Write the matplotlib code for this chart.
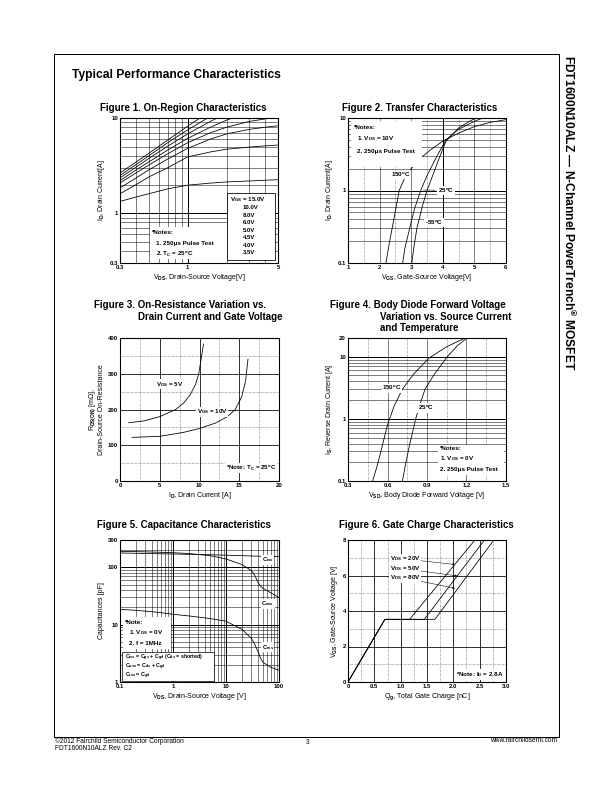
import numpy as np
import matplotlib.pyplot as plt
from matplotlib.patches import Rectangle
from matplotlib.ticker import NullLocator

plt.rcParams['font.family'] = ['Liberation Sans', 'DejaVu Sans']
plt.rcParams['font.weight'] = 'bold'
plt.rcParams['mathtext.fontset'] = 'custom'
plt.rcParams['mathtext.rm'] = 'Liberation Sans:bold'
plt.rcParams['mathtext.it'] = 'Liberation Sans:bold'
plt.rcParams['mathtext.bf'] = 'Liberation Sans:bold'

# ---- data ----
# fig 1: on-region
f1_vds = [0.3, 0.4, 0.5, 0.7, 1.0, 1.5, 2.0, 3.0, 4.0, 5.0]
f1_id_15v = [2.65, 3.45, 4.25, 5.85, 8.2, 11.8, 15, 20, 24, 27]
f1_id_10v = [2.49, 3.25, 4.0, 5.5, 7.5, 10.4, 13, 17, 20, 22]
f1_id_8v = [2.35, 3.05, 3.75, 5.05, 6.8, 9.2, 11.2, 14, 16, 17]
f1_id_6v = [2.2, 2.85, 3.45, 4.6, 6.1, 8.0, 9.5, 11.5, 12.8, 13.5]
f1_id_5v = [2.08, 2.65, 3.2, 4.2, 5.5, 7.0, 8.0, 9.2, 9.8, 10.2]
f1_id_45v = [1.84, 2.35, 2.85, 3.7, 4.8, 6.0, 6.8, 7.6, 8.0, 8.3]
f1_id_4v = [1.6, 2.0, 2.4, 3.0, 3.9, 4.4, 4.7, 4.95, 5.1, 5.2]
f1_id_35v = [1.33, 1.48, 1.6, 1.8, 1.97, 2.07, 2.13, 2.18, 2.22, 2.25]
f1_legend = ['10.0V', '8.0V', '6.0V', '5.0V', '4.5V', '4.0V', '3.5V']

# fig 2: transfer
f2_vgs_150 = [2.2, 2.3, 2.45, 2.62, 2.8, 3.0, 3.3, 3.6, 4.0, 4.5, 5.0, 5.5, 6.0]
f2_id_150 = [0.1, 0.18, 0.4, 1.0, 1.5, 2.0, 2.8, 3.6, 4.8, 6.2, 7.6, 8.7, 9.5]
f2_vgs_25 = [2.73, 2.8, 2.95, 3.1, 3.3, 3.5, 3.8, 4.1, 4.5, 5.0, 5.4]
f2_id_25 = [0.1, 0.16, 0.3, 0.55, 1.0, 1.6, 2.9, 5.0, 7.0, 9.0, 10.5]
f2_vgs_m55 = [3.02, 3.08, 3.18, 3.35, 3.5, 3.7, 3.9, 4.1, 4.5, 4.9, 5.2]
f2_id_m55 = [0.1, 0.16, 0.3, 0.6, 1.0, 1.7, 2.9, 4.8, 7.3, 9.3, 10.5]

# fig 3: on-resistance
f3_id_5v = [1.1, 3, 5, 7, 8, 8.8, 9.5, 9.9, 10.2, 10.5]
f3_r_5v = [163, 168, 180, 200, 218, 240, 270, 300, 340, 383]
f3_id_10v = [1.5, 5, 8, 10, 12, 13.5, 14.5, 15.3, 15.8, 16.1]
f3_r_10v = [122, 125, 136, 147, 162, 180, 200, 235, 280, 341]

# fig 4: body diode
f4_vsd_150 = [0.487, 0.52, 0.55, 0.6, 0.65, 0.713, 0.8, 0.915, 1.05, 1.19]
f4_is_150 = [0.1, 0.17, 0.3, 0.8, 1.6, 3.0, 5.3, 9.5, 14.5, 20]
f4_vsd_25 = [0.713, 0.74, 0.77, 0.814, 0.85, 0.885, 0.95, 1.054, 1.13, 1.205]
f4_is_25 = [0.1, 0.2, 0.4, 1.0, 1.8, 3.0, 5.0, 10, 15, 20]

# fig 5: capacitance
f5_vds = [0.1, 0.2, 0.5, 1, 2, 5, 10, 20, 30, 35, 40, 45, 50, 70, 100]
f5_ciss = [178, 176, 173, 171, 169, 166, 163, 160, 158, 157, 157, 156, 156, 155, 154]
f5_coss = [190, 188, 184, 180, 174, 160, 140, 112, 88, 72, 55, 47, 43, 36, 30]
f5_crss = [18.5, 17.8, 16.5, 15.2, 14.2, 12.8, 11.5, 8.3, 5.8, 4.5, 3.4, 2.6, 2.2, 1.8, 1.6]

# fig 6: gate charge
f6_qg_20 = [0, 0.7, 1.17, 2.41]
f6_qg_50 = [0, 0.7, 1.45, 2.59]
f6_qg_80 = [0, 0.7, 1.65, 2.77]
f6_vgs = [0, 3.53, 3.53, 8]

W, H = 612, 792
fig = plt.figure(figsize=(W / 72, H / 72), dpi=72)


def box(l, t, r, b):
    return fig.add_axes([l / W, 1 - b / H, (r - l) / W, (b - t) / H])


def ftext(x, y, s, **kw):
    fig.text(x / W, 1 - y / H, s, **kw)


def grid(ax, xs=(), ys=(), lw=0.5, ls='-'):
    for x in xs:
        ax.axvline(x, color='k', lw=lw, ls=ls, zorder=1)
    for y in ys:
        ax.axhline(y, color='k', lw=lw, ls=ls, zorder=1)


def style(ax):
    for s in ax.spines.values():
        s.set_linewidth(1.1)
        s.set_zorder(5)
    ax.tick_params(length=0, labelsize=6, pad=2)
    ax.xaxis.set_minor_locator(NullLocator())
    ax.yaxis.set_minor_locator(NullLocator())


white = dict(fc='w', ec='none', pad=0.6)
fs = 7.0     # axis labels
ts = 6.3     # notes inside plots
tf = 9.8     # figure titles

# page frame and headings
fig.add_artist(Rectangle((54 / W, 1 - 737 / H), 505 / W, 683 / H,
                         transform=fig.transFigure, fill=False, lw=1, ec='k'))
ftext(72, 75, 'Typical Performance Characteristics', fontsize=12, va='center')
ftext(569, 55, 'FDT1600N10ALZ \u2014 N-Channel PowerTrench$^{\u00ae}$ MOSFET',
      fontsize=12, rotation=-90, ha='center', va='top')
ftext(55, 741, '\u00a92012 Fairchild Semiconductor Corporation', fontsize=6.6, weight='normal', va='center')
ftext(55, 749, 'FDT1600N10ALZ Rev. C2', fontsize=6.6, weight='normal', va='center')
ftext(308, 742, '3', fontsize=6.6, weight='normal', va='center', ha='center')
ftext(557, 741, 'www.fairchildsemi.com', fontsize=6.6, weight='normal', va='center', ha='right')

ftext(183, 108, 'Figure 1. On-Region Characteristics', fontsize=tf, ha='center', va='center')
ftext(420, 108, 'Figure 2. Transfer Characteristics', fontsize=tf, ha='center', va='center')
ftext(94, 305, 'Figure 3. On-Resistance Variation vs.', fontsize=tf, va='center')
ftext(138, 317, 'Drain Current and Gate Voltage', fontsize=tf, va='center')
ftext(330, 305, 'Figure 4. Body Diode Forward Voltage', fontsize=tf, va='center')
ftext(380, 317, 'Variation vs. Source Current', fontsize=tf, va='center')
ftext(380, 328, 'and Temperature', fontsize=tf, va='center')
ftext(184, 525, 'Figure 5. Capacitance Characteristics', fontsize=tf, ha='center', va='center')
ftext(426, 525, 'Figure 6. Gate Charge Characteristics', fontsize=tf, ha='center', va='center')

# ---- Figure 1 ----
ax = box(120, 118, 278, 263)
ax.set_xscale('log')
ax.set_yscale('log')
ax.set_xlim(0.3, 5)
ax.set_ylim(0.3, 10)
grid(ax, [0.4, 0.5, 0.6, 0.7, 0.8, 0.9, 2, 3, 4], [0.4, 0.5, 0.6, 0.7, 0.8, 0.9, 2, 3, 4, 5, 6, 7, 8, 9])
grid(ax, [1], [1], lw=1)
for ys in [f1_id_15v, f1_id_10v, f1_id_8v, f1_id_6v, f1_id_5v, f1_id_45v, f1_id_4v, f1_id_35v]:
    ax.plot(f1_vds, ys, color='k', lw=0.8, zorder=2)
ax.set_xticks([0.3, 1, 5], ['0.3', '1', '5'])
ax.set_yticks([0.3, 1, 10], ['0.3', '1', '10'])
style(ax)
ax.set_xlabel('V$_{DS}$, Drain-Source Voltage[V]', fontsize=fs, labelpad=2)
ax.set_ylabel('I$_D$, Drain Current[A]', fontsize=fs, labelpad=3)
ax.add_patch(Rectangle((0.677, 0.02), 0.303, 0.46, transform=ax.transAxes,
                       fc='w', ec='k', lw=0.8, zorder=3))
ax.text(0.695, 0.435, 'V$_{GS}$ = 15.0V', transform=ax.transAxes, fontsize=ts, va='center', zorder=4)
for i, lab in enumerate(f1_legend):
    ax.text(0.775, 0.38 - i * 0.0515, lab, transform=ax.transAxes, fontsize=ts - 0.3, va='center', zorder=4)
ax.add_patch(Rectangle((0.19, 0.03), 0.49, 0.22, transform=ax.transAxes, fc='w', ec='none', zorder=3))
ax.text(0.205, 0.21, '*Notes:', transform=ax.transAxes, fontsize=ts, va='center', zorder=4)
ax.text(0.225, 0.135, '1. 250\u03bcs Pulse Test', transform=ax.transAxes, fontsize=ts, va='center', zorder=4)
ax.text(0.225, 0.06, '2. T$_C$ = 25$^o$C', transform=ax.transAxes, fontsize=ts, va='center', zorder=4)

# ---- Figure 2 ----
ax = box(348, 118, 506, 263)
ax.set_yscale('log')
ax.set_xlim(1, 6)
ax.set_ylim(0.1, 10)
grid(ax, [1.5, 2.5, 3.5, 4.5, 5.5], [], lw=0.5, ls=':')
grid(ax, [2, 3, 5], [0.2, 0.3, 0.4, 0.5, 0.6, 0.7, 0.8, 0.9, 2, 3, 4, 5, 6, 7, 8, 9])
grid(ax, [4], [1], lw=1)
ax.plot(f2_vgs_150, f2_id_150, color='k', lw=0.8, zorder=2)
ax.plot(f2_vgs_25, f2_id_25, color='k', lw=0.8, zorder=2)
ax.plot(f2_vgs_m55, f2_id_m55, color='k', lw=0.8, zorder=2)
ax.set_xticks([1, 2, 3, 4, 5, 6])
ax.set_yticks([0.1, 1, 10], ['0.1', '1', '10'])
style(ax)
ax.set_xlabel('V$_{GS}$, Gate-Source Voltage[V]', fontsize=fs, labelpad=2)
ax.set_ylabel('I$_D$, Drain Current[A]', fontsize=fs, labelpad=3)
ax.add_patch(Rectangle((0.02, 0.66), 0.45, 0.32, transform=ax.transAxes, fc='w', ec='none', zorder=3))
ax.text(0.035, 0.935, '*Notes:', transform=ax.transAxes, fontsize=ts, va='center', zorder=4)
ax.text(0.055, 0.855, '1. V$_{DS}$ = 10V', transform=ax.transAxes, fontsize=ts, va='center', zorder=4)
ax.text(0.055, 0.77, '2. 250\u03bcs Pulse Test', transform=ax.transAxes, fontsize=ts, va='center', zorder=4)
ax.text(2.67, 1.66, '150$^o$C', fontsize=ts, ha='center', va='center', bbox=white, zorder=4)
ax.annotate('25$^o$C', xy=(3.32, 1.02), xytext=(4.1, 1.0), fontsize=ts, ha='center', va='center',
            bbox=white, zorder=4, arrowprops=dict(arrowstyle='-', color='k', lw=0.5))
ax.text(3.72, 0.36, '-55$^o$C', fontsize=ts, ha='center', va='center', bbox=white, zorder=4)

# ---- Figure 3 ----
ax = box(120, 338, 279, 481)
ax.set_xlim(0, 20)
ax.set_ylim(0, 400)
grid(ax, [2.5, 7.5, 12.5, 17.5], [50, 150, 250, 350], ls=':')
grid(ax, [5, 10, 15], [100, 200, 300], lw=0.8)
ax.plot(f3_id_5v, f3_r_5v, color='k', lw=0.8, zorder=2)
ax.plot(f3_id_10v, f3_r_10v, color='k', lw=0.8, zorder=2)
ax.set_xticks([0, 5, 10, 15, 20])
ax.set_yticks([0, 100, 200, 300, 400])
style(ax)
ax.set_xlabel('I$_D$, Drain Current [A]', fontsize=fs, labelpad=2)
ax.set_ylabel('R$_{DS(ON)}$ [m\u03a9],\nDrain-Source On-Resistance', fontsize=fs, labelpad=3, linespacing=1.0)
ax.text(6.3, 271, 'V$_{GS}$ = 5V', fontsize=ts, ha='center', va='center', bbox=white, zorder=4)
ax.text(11.6, 193, 'V$_{GS}$ = 10V', fontsize=ts, ha='center', va='center', bbox=white, zorder=4)
ax.text(16.5, 36, '*Note: T$_C$ = 25$^o$C', fontsize=ts, ha='center', va='center', bbox=white, zorder=4)

# ---- Figure 4 ----
ax = box(348, 338, 506, 481)
ax.set_yscale('log')
ax.set_xlim(0.3, 1.5)
ax.set_ylim(0.1, 20)
grid(ax, [0.45, 0.75, 1.05, 1.35], [], ls=':')
grid(ax, [0.6, 0.9, 1.2], [0.2, 0.3, 0.4, 0.5, 0.6, 0.7, 0.8, 0.9, 2, 3, 4, 5, 6, 7, 8, 9])
grid(ax, [], [1, 10], lw=1)
ax.plot(f4_vsd_150, f4_is_150, color='k', lw=0.8, zorder=2)
ax.plot(f4_vsd_25, f4_is_25, color='k', lw=0.8, zorder=2)
ax.set_xticks([0.3, 0.6, 0.9, 1.2, 1.5])
ax.set_yticks([0.1, 1, 10, 20], ['0.1', '1', '10', '20'])
style(ax)
ax.set_xlabel('V$_{SD}$, Body Diode Forward Voltage [V]', fontsize=fs, labelpad=2)
ax.set_ylabel('I$_S$, Reverse Drain Current [A]', fontsize=fs, labelpad=3)
ax.text(0.634, 3.1, '150$^o$C', fontsize=ts, ha='center', va='center', bbox=white, zorder=4)
ax.text(0.892, 1.5, '25$^o$C', fontsize=ts, ha='center', va='center', bbox=white, zorder=4)
ax.add_patch(Rectangle((0.57, 0.04), 0.42, 0.215, transform=ax.transAxes, fc='w', ec='none', zorder=3))
ax.text(0.585, 0.225, '*Notes:', transform=ax.transAxes, fontsize=ts, va='center', zorder=4)
ax.text(0.585, 0.155, '1. V$_{GS}$ = 0V', transform=ax.transAxes, fontsize=ts, va='center', zorder=4)
ax.text(0.585, 0.08, '2. 250\u03bcs Pulse Test', transform=ax.transAxes, fontsize=ts, va='center', zorder=4)

# ---- Figure 5 ----
ax = box(120, 540, 279, 682)
ax.set_xscale('log')
ax.set_yscale('log')
ax.set_xlim(0.1, 100)
ax.set_ylim(1, 300)
xm = [m * d for d in [0.1, 1, 10] for m in range(2, 10)]
ym = [m * d for d in [1, 10, 100] for m in range(2, 10) if m * d < 300]
grid(ax, xm, ym)
grid(ax, [1, 10], [10, 100], lw=1)
ax.plot(f5_vds, f5_ciss, color='k', lw=0.8, zorder=2)
ax.plot(f5_vds, f5_coss, color='k', lw=0.8, zorder=2)
ax.plot(f5_vds, f5_crss, color='k', lw=0.8, zorder=2)
ax.set_xticks([0.1, 1, 10, 100], ['0.1', '1', '10', '100'])
ax.set_yticks([1, 10, 100, 300], ['1', '10', '100', '300'])
style(ax)
ax.set_xlabel('V$_{DS}$, Drain-Source Voltage [V]', fontsize=fs, labelpad=2)
ax.set_ylabel('Capacitances [pF]', fontsize=fs, labelpad=3)
ax.text(0.93, 0.86, 'C$_{iss}$', transform=ax.transAxes, fontsize=ts - 0.5, ha='center', va='center', bbox=white, zorder=4)
ax.text(0.93, 0.55, 'C$_{oss}$', transform=ax.transAxes, fontsize=ts - 0.5, ha='center', va='center', bbox=white, zorder=4)
ax.text(0.93, 0.245, 'C$_{rss}$', transform=ax.transAxes, fontsize=ts - 0.5, ha='center', va='center', bbox=white, zorder=4)
ax.add_patch(Rectangle((0.02, 0.235), 0.3, 0.225, transform=ax.transAxes, fc='w', ec='none', zorder=3))
ax.text(0.03, 0.42, '*Note:', transform=ax.transAxes, fontsize=ts, va='center', zorder=4)
ax.text(0.055, 0.345, '1. V$_{GS}$ = 0V', transform=ax.transAxes, fontsize=ts, va='center', zorder=4)
ax.text(0.055, 0.27, '2. f = 1MHz', transform=ax.transAxes, fontsize=ts, va='center', zorder=4)
ax.add_patch(Rectangle((0.015, 0.008), 0.575, 0.2, transform=ax.transAxes, fc='w', ec='k', lw=0.7, zorder=3))
ax.text(0.03, 0.172, 'C$_{iss}$ = C$_{gs}$ + C$_{gd}$ (C$_{ds}$ = shorted)', transform=ax.transAxes,
        fontsize=5.3, va='center', zorder=4)
ax.text(0.03, 0.106, 'C$_{oss}$ = C$_{ds}$ + C$_{gd}$', transform=ax.transAxes, fontsize=5.3, va='center', zorder=4)
ax.text(0.03, 0.04, 'C$_{rss}$ = C$_{gd}$', transform=ax.transAxes, fontsize=5.3, va='center', zorder=4)

# ---- Figure 6 ----
ax = box(348, 540, 506, 682)
ax.set_xlim(0, 3)
ax.set_ylim(0, 8)
grid(ax, [0.25, 0.75, 1.25, 1.75, 2.25, 2.75], [1, 3, 5, 7], ls=':')
grid(ax, [0.5, 1.0, 1.5, 2.0, 2.5], [2, 4, 6], lw=0.8)
ax.plot(f6_qg_20, f6_vgs, color='k', lw=0.8, zorder=2)
ax.plot(f6_qg_50, f6_vgs, color='k', lw=0.8, zorder=2)
ax.plot(f6_qg_80, f6_vgs, color='k', lw=0.8, zorder=2)
ax.set_xticks([0, 0.5, 1.0, 1.5, 2.0, 2.5, 3.0], ['0', '0.5', '1.0', '1.5', '2.0', '2.5', '3.0'])
ax.set_yticks([0, 2, 4, 6, 8])
style(ax)
ax.set_xlabel('Q$_g$, Total Gate Charge [nC]', fontsize=fs, labelpad=2)
ax.set_ylabel('V$_{GS}$, Gate-Source Voltage [V]', fontsize=fs, labelpad=3)
for lab, y, tgt in [('V$_{DS}$ = 20V', 6.93, (2.03, 6.62)),
                    ('V$_{DS}$ = 50V', 6.37, (2.07, 5.98)),
                    ('V$_{DS}$ = 80V', 5.86, (2.03, 5.28))]:
    ax.annotate(lab, xy=tgt, xytext=(1.08, y), fontsize=ts, ha='center', va='center', bbox=white,
                zorder=4, arrowprops=dict(arrowstyle='-|>', color='k', lw=0.5, mutation_scale=4,
                                          shrinkA=0, shrinkB=0))
ax.text(2.5, 0.42, '*Note: I$_D$ = 2.8A', fontsize=ts, ha='center', va='center', bbox=white, zorder=4)

fig.savefig('out.png', dpi=72)
